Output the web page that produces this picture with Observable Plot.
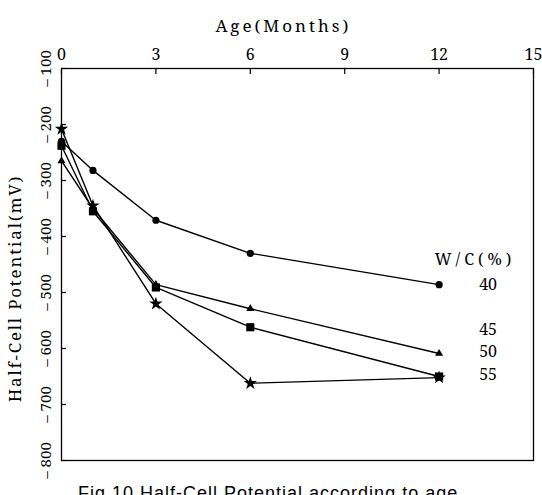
<!DOCTYPE html>
<html>
<head>
<meta charset="utf-8">
<script src="https://cdn.jsdelivr.net/npm/d3@7"></script>
<script src="https://cdn.jsdelivr.net/npm/@observablehq/plot@0.6"></script>
<style>
  html, body { margin: 0; padding: 0; background: #fff; }
  body { width: 542px; height: 495px; overflow: hidden; }
  #chart svg, #chart svg text { font-family: "Noto Serif", "Noto Serif CJK SC", "Noto Serif CJK KR", serif !important; }
  #caption {
    font-family: "Liberation Sans", Arial, sans-serif;
    font-size: 18px;
    line-height: 18px;
    letter-spacing: 1px;
    color: #000;
    margin: 12px 0 0 78px;
    white-space: nowrap;
  }
</style>
</head>
<body>
<div id="chart"></div>
<div id="caption">Fig.10 Half-Cell Potential according to age</div>
<script>
// Age of specimens (months) and half-cell potential (mV) per W/C ratio
const ages = [0, 1, 3, 6, 12];
const wc40 = [-230, -282, -371, -430, -486];
const wc45 = [-265, -350, -486, -529, -609];
const wc50 = [-238, -355, -491, -562, -650];
const wc55 = [-208, -345, -520, -662, -652];
const wcNames = ["40", "45", "50", "55"];
const xTicks = [0, 3, 6, 9, 12, 15];
const yTicks = [-100, -200, -300, -400, -500, -600, -700, -800];
const xTitle = "Age(Months)";
const yTitle = "Half-Cell Potential(mV)";
const legendTitle = "W/C(%)";

const seriesValues = [wc40, wc45, wc50, wc55];
const markerSymbols = ["circle", "triangle", "square", "star"];
const markerRadius = [3.6, 3, 4.6, 4.2];

const rows = wcNames.flatMap((wc, i) =>
  ages.map((age, j) => ({ age, mv: seriesValues[i][j], wc }))
);

// Labels column sits beside the end of the 40% series
const anchorPt = [{ age: ages[ages.length - 1], mv: wc40[wc40.length - 1] }];
const rowStep = 22.5;
const labelRow = [0, 2, 3, 4];

const marks = [
  Plot.frame({ stroke: "black", strokeWidth: 1.3 }),
  // inward tick marks
  Plot.axisX({ ticks: xTicks, anchor: "top", tickSize: -5, tickFormat: () => "", label: null, strokeWidth: 1.2 }),
  Plot.axisY({ ticks: yTicks, anchor: "left", tickSize: -5, tickFormat: () => "", label: null, strokeWidth: 1.2 }),
  // tick labels
  Plot.axisX({ ticks: xTicks, anchor: "top", tickSize: 0, tickPadding: 9, label: null, fontSize: 16 }),
  Plot.axisY({ ticks: yTicks, anchor: "left", tickSize: 0, tickPadding: 11, tickRotate: -90,
    tickFormat: d => `\u2013 ${Math.abs(d)}`, label: null, fontSize: 15 }),
  // axis titles
  Plot.text([xTitle], { frameAnchor: "top", dx: -14, dy: -49, fontSize: 17 }),
  Plot.text([yTitle], { frameAnchor: "left", textAnchor: "middle", rotate: -90, dx: -46, dy: 24, fontSize: 17 }),
  // series
  Plot.line(rows, { x: "age", y: "mv", z: "wc", stroke: "black", strokeWidth: 1.4 }),
  ...wcNames.map((wc, i) =>
    Plot.dot(rows.filter(d => d.wc === wc), {
      x: "age", y: "mv", symbol: markerSymbols[i], r: markerRadius[i], fill: "black", stroke: "none"
    })
  ),
  // W/C labels
  Plot.text(anchorPt, { x: "age", y: "mv", text: () => legendTitle, dx: 36, dy: -rowStep - 2, fontSize: 16 }),
  ...wcNames.map((wc, i) =>
    Plot.text(anchorPt, { x: "age", y: "mv", text: () => wc, dx: 49, dy: labelRow[i] * rowStep, fontSize: 16 })
  )
];

const chart = Plot.plot({
  width: 542,
  height: 472,
  marginLeft: 61,
  marginRight: 9,
  marginTop: 68,
  marginBottom: 12,
  x: { domain: [0, 15] },
  y: { domain: [-800, -100] },
  style: { fontSize: "16px", color: "black", background: "white", overflow: "visible" },
  marks
});

// letter spacing for the spaced-out titles
d3.select(chart).selectAll("text").each(function () {
  const t = this.textContent;
  if (t === xTitle) this.setAttribute("letter-spacing", "3");
  if (t === yTitle) this.setAttribute("letter-spacing", "1.8");
  if (t === legendTitle) this.setAttribute("letter-spacing", "4");
});

document.getElementById("chart").appendChild(chart);
</script>
</body>
</html>
